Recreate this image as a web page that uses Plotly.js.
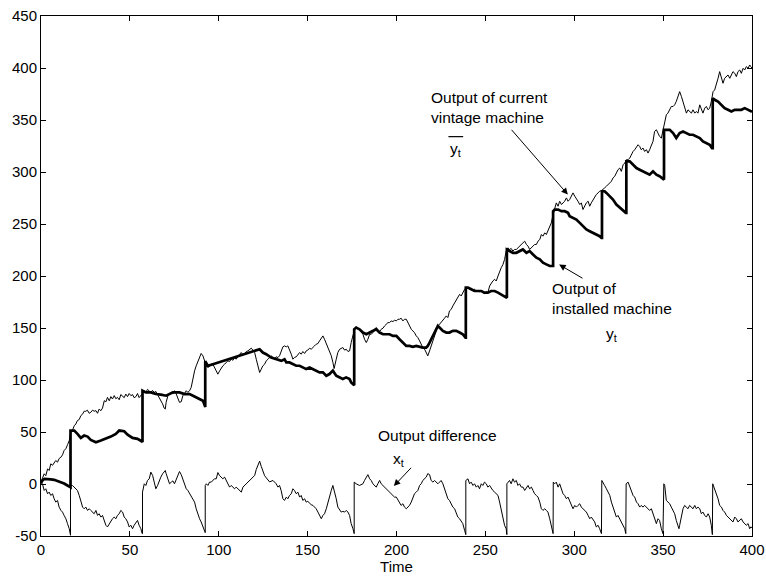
<!DOCTYPE html>
<html>
<head>
<meta charset="utf-8">
<script src="https://cdn.plot.ly/plotly-3.0.1.min.js"></script>
<style>
  html, body { margin: 0; padding: 0; background: #fff; }
  #chart { width: 766px; height: 578px; }
</style>
</head>
<body>
<div id="chart"></div>
<script>
// Output of the current vintage machine (thin upper line)
const tVintage = [0,1,1.8,2.7,3.7,4.6,5.5,6.5,7.4,8.3,9.3,10.2,11.2,12.1,13,14,15,15.9,16.8,17.8,18.7,19.6,20.5,21.5,22.4,23.3,24.3,25.2,26.1,27.1,28,29,29.9,30.9,31.8,32.7,33.7,34.6,35.6,36.5,37.4,38.4,39.3,40.2,41.2,42.1,43,44,44.9,45.9,46.8,47.7,48.7,49.6,50.6,51.5,52.4,53.4,54.3,55.2,56.2,57.1,58.1,59,59.9,60.9,61.8,62.7,63.7,64.6,65.5,66.5,67.4,68.4,69.3,69.9,70.4,71.4,72.3,73.3,74.2,75.1,76.1,77,77.9,78.9,79.8,80.8,81.7,82.6,83.6,84.5,85.5,86.4,87.3,88.3,89.2,90.1,91.1,92,93,93.9,94.8,95.8,96.7,97.6,98.6,99.5,100.5,101.4,102.3,103.3,104.2,105.1,106.1,107,108,108.9,109.8,110.8,111.7,112.7,113.6,114.5,115.5,116.4,117.3,118.3,119.2,120.2,121.1,122,123,123.9,124.8,125.8,126.7,127.7,128.6,129.5,130.5,131.4,132.3,133.3,134.2,135.1,136.1,137,138,138.9,139.8,140.8,141.7,142.6,143.6,144.5,145.5,146.4,147.3,148.3,149.2,150.1,151.1,152,153,153.9,154.8,155.8,156.7,157.7,158.6,159.5,160.5,161.4,162.3,163.3,164.2,164.9,166.1,167,168,168.9,169.8,170.8,171.7,172.7,173.6,174.5,175.5,176.4,177.3,178.3,179.2,180.2,181.1,182,183,183.9,184.9,185.8,186.7,187.7,188.6,189.5,190.5,191.4,192.4,193.3,194.2,195.2,196.1,197,198,198.9,199.9,200.8,201.7,202.6,203.6,204.5,205.5,206.4,207.3,208.3,209.2,210.1,211.1,212,213,213.9,214.8,215.8,216.7,217.6,218.6,219.5,220.5,221.4,222.3,223.3,224.2,225.1,226.1,227,228,228.9,229.8,230.8,231.7,232.7,233.6,234.5,235.5,236.4,237.3,238.3,239.2,240.2,241.1,242,243,243.9,244.9,245.8,246.7,247.7,248.6,249.5,250.5,251.4,252.4,253.3,254.2,255.2,256.1,257.1,258,258.9,259.9,260.8,261.7,262.7,263.6,264.5,265.5,266.4,267.4,268.3,269.3,270.2,271.2,272.1,273.1,274,274.9,275.9,276.8,277.7,278.7,279.6,280.6,281.5,282.4,283.4,284.3,285.2,286.2,287.1,288.1,289,289.9,290.9,291.8,292.8,293.7,294.6,295.6,296.5,297.4,298.4,299.3,300.3,301.2,302.1,303.1,304,304.9,305.9,306.8,307.8,308.7,309.6,310.6,311.5,312.4,313.4,314.3,315.3,316.2,317.1,318.1,319,320,320.9,321.8,322.8,323.7,324.6,325.6,326.5,327.5,328.4,329.3,330.3,331.2,332.1,333.1,334,335,335.9,336.8,337.7,338.7,339.6,340.6,341.5,342.4,343.4,344.3,345.2,346.2,347.1,348,349,349.6,350.3,350.9,351.8,352.7,353.7,354.6,355.6,356.5,357.4,358.4,359.3,360.3,361.2,362.1,363.1,364,364.9,365.9,366.8,367.8,368.7,369.6,370.6,371.5,372.4,373.4,374.3,375.3,376.2,377.1,378.1,379,380,380.9,381.8,382.8,383.7,384.6,385.6,386.5,387.5,388.4,389.3,390.3,391.2,392.1,393.1,394,395,395.9,396.8,397.8,398.7,399.3,400];
const yVintage = [2,6,9.8,8,14.6,13,19.4,18,21,22.6,21,24.5,25.8,28,32.2,34,38,41.8,49.8,52,56,57.7,61,62,65.7,67,70,69.9,71,68,68.9,71,70,70.5,68,72,70.5,73,80.1,79,83.3,80,84,81.7,85,82,83.3,81,86,84,83,86.5,84,87,84.9,86,83,84,87,83,84.9,87,89.7,88,91,89.7,88,90,88.1,89,86,84,81,77,73,72,78.5,84.9,86.5,88.1,86.5,89.7,86.5,81.7,78.5,79.1,84.9,87.1,89.7,88.1,89.7,92.9,102.4,108.8,113.6,118.4,123.2,125.5,123.2,118.4,113.6,112,113.6,115.2,115.2,112,108.8,105.6,108.8,112,113.6,115.2,116.8,118.4,117.8,120,119,121.6,120,123.2,124.8,126.4,124.2,124.8,127.4,128,129.6,130.6,128.7,126.4,120,113.6,107.2,110.4,113.6,115.2,118.4,120,121.6,123.2,121.6,120,122.3,121.6,123.3,128,131.9,132.8,131.9,132.8,129.6,124.8,120,121.7,122.3,124.8,126.4,124.8,127.4,125.5,128,128.7,130.6,129.6,131.9,132.8,134.4,135.1,137.6,140.2,142.4,139.2,135.1,131.2,127.4,123.3,117,111,120,126.4,129.6,130.6,131.2,128.7,129.6,127.4,128,136,142.4,148.8,151,149.8,148.8,146.6,144,139.2,136,139.2,144,144,145.6,148.8,150.4,147.9,146.6,148.8,149.8,152,153.6,155.2,155.2,156.8,156.2,157.4,156.8,158.4,158.4,159.4,156.8,158.4,158.4,155.2,153.6,148.8,147.2,145.6,142.4,140.8,137.6,134.4,131.2,129.6,126.4,123.2,128,132.8,137.6,142.4,147.2,152,153.6,155.2,157.4,159.4,161.6,160,166.4,168,171.2,174.4,176,179.2,182.4,180.8,184,187.2,188.8,188.8,187.2,188.1,186.2,187.2,185.6,186.2,184.9,185.6,184,183,184.9,184,190.4,193.6,195.2,196.8,195.2,200,204.7,207.9,211.1,215.9,223.9,227.1,225.5,226.5,223.9,225.5,225.5,227.1,228.7,230.3,231.9,233.5,230.3,228.7,225.5,227.1,228.7,230.3,230.3,233.5,235.1,239.9,238.3,241.5,239.9,243.1,247.9,251.1,259.1,265.5,270.3,267.1,271.9,268.7,270.3,271.9,275.1,271.9,273.5,276.7,279.9,276.7,273.5,271.9,268.7,270.3,263.9,267.1,270.3,271.9,267.1,270.3,273.5,275.1,278.3,279.9,281.5,282.1,283.1,284.7,286.3,287.9,289.5,291.1,294.3,295.9,299.1,302.2,303.8,300.6,307,308.6,311.8,311.8,313.4,316.6,319.8,321.4,324.6,326.2,324.6,321.4,323,319.8,321.4,318.2,321.4,326.2,329.4,339,340.6,337.4,334.2,332.6,337.4,343.8,347,355,356.6,359.8,363,363,364.6,367.8,374.2,377.3,372.6,367.8,361.4,356.6,359.8,358.2,356.6,359.8,356.6,358.2,356.6,364.6,359.8,356.6,361.4,363,359.8,361.4,367.8,377.3,378.9,383.7,390.1,396.5,391.7,385.3,390.1,391.7,393.3,390.1,393.3,396.5,394.9,391.7,396.5,398.1,394.9,399.7,398.1,401.3,399.7,402.9,401.3,400];

// Output of the installed machine (thick line, jumps at each replacement)
const tInstalled = [0,0.8,2,3.7,5.5,7.4,9.3,11.2,13,14.9,16.6,16.6,18.7,20.5,22.4,24.3,26.2,28,30.9,33.7,36.5,39.3,42.1,44,46.8,48.7,51.5,54.3,56.6,57.1,57.1,59,61.8,64.6,67.4,70.4,74.2,77.9,80.8,83.6,85.5,87.3,89.2,91.1,92.2,92.4,92.4,93.9,96.7,99.5,102.3,105.1,108,111.7,114.5,117.3,120.2,123,124.8,126.7,129.5,132.3,135.2,137,138,139.8,141.7,143.6,145.5,147.3,149.2,151.1,153,154.8,156.7,158.6,160.5,162.3,164.2,166.1,168,169.8,171.7,173.6,174.5,176,176.2,176.2,177.3,179.2,181.1,183,184.9,186.7,188.6,190.5,192.4,194.2,196.1,198,199.9,201.7,203.6,205.5,207.3,209.2,211.1,213,214.8,216.7,217.6,218.6,220.5,222.3,223.3,224.2,226.1,228,229.8,231.7,233.6,235.5,237.3,238.8,239,239,240.2,242,243.9,245.8,247.7,249.5,251.4,253.3,255.2,257.1,258.9,260.8,261.7,262.1,262.1,263.6,265.5,267.4,269.2,271.1,273.1,274.9,276.8,278.7,280.6,282.4,284.3,286.2,287.5,288.1,288.1,289,290.9,292.8,294.6,296.5,297.4,299.3,301.2,303.1,304.9,306.8,308.7,310.6,312.4,314.3,315.3,315.6,315.6,317.1,318.1,320,321.8,323.7,325.6,327.5,329,329.3,329.3,331.2,333.1,335,336.8,338.7,340.6,342.4,344.3,346.2,348,349.9,350.5,350.5,351.8,353.7,355.6,357.4,359.3,361.2,363.1,364.9,366.8,368.7,370.6,372.4,374.3,376.2,377.5,377.9,377.9,379,380.9,382.8,384.6,386.5,388.4,390.3,392.1,394,395.9,397.8,399.3,400];
const yInstalled = [1,3.4,5,5,4.5,4,3,1.8,0.5,-1.4,-3,51.4,51.4,48.2,44.3,46.6,45.6,42.4,40.2,41.8,43.4,45.6,48.2,51.4,50.7,47.5,44.3,43.4,41.1,40.5,89.7,88.1,88.1,86.5,86,84.9,88.1,88.1,86.5,86.5,84.9,83.3,81.7,80.1,75.3,74,118,113.6,115.2,116.8,118.4,120,121.6,123.2,124.8,126.4,128,129.6,126.4,124.8,121.6,120,118.4,120,116.9,116.9,115.3,113.7,113.7,112.1,110.5,112.1,110.5,108.9,107.3,107.3,104.1,105.7,109,104.1,102.5,100.9,102.5,100.9,97.7,95.4,95,148.8,150.4,148.8,145.6,144,145.6,147.2,148.8,145.6,144,144,144,142.4,142.4,139.2,136,132.8,132.8,131.9,132.8,131.9,131.2,131.2,132.8,136,142.4,148.8,152,150.4,147.2,145.6,145.6,147.2,147.2,145.6,144,140.8,140.8,188.8,188.8,187.2,185.6,185.6,185.6,184,184,185.6,185.6,184,182.4,180.8,179.2,179,225.5,223.9,222.3,222.3,223.9,225.5,222.3,223.9,220.7,217.6,216,212.8,211.2,209.6,209.6,209.6,262.3,263.9,263.9,262.3,262.3,260.7,257.5,255.9,254.3,251.1,247.9,244.7,243.1,241.5,239.9,238.3,236.7,236.7,281.5,281.5,279.9,276.7,273.5,268.7,265.5,262.3,260.7,260.7,310.2,310.2,307,303.8,302.2,300.6,299,297.4,300.6,297.4,295.9,292.7,292.7,340.6,340.6,340.6,337.4,332.6,337.4,339,337.4,335.8,335.8,334.2,332.6,329.4,327.8,326.2,323,323,371,369.4,367.8,364.6,361.4,359.8,358.2,359.8,359.8,359.8,361.4,359.8,358.2,358];

// Output difference x_t (thin lower line, resets at each replacement)
const tDiff = [0,0.8,1.8,2.7,3.7,4.6,5.5,6.5,7.4,8.3,9.3,10.2,11.2,12.1,13,14,14.9,15.9,16.6,16.6,17.7,18.7,19.6,20.5,21.5,22.4,23.4,24.3,25.2,26.2,27.1,28,29,29.9,30.9,31.8,32.7,33.7,34.6,35.6,36.5,37.4,38.4,39.3,40.2,41.2,42.1,43,44,44.9,45.9,46.8,47.7,48.7,49.6,50.6,51.5,52.4,53.4,54.3,55.2,56.2,56.9,57.1,57.1,58.1,59,59.9,60.9,61.8,62.8,63.7,64.6,65.6,66.5,67.4,68.4,69.9,70.4,71.4,72.3,73.3,74.2,75.1,76.1,77,77.9,78.9,79.8,80.8,81.7,82.6,83.6,84.5,85.5,86.4,87.3,88.3,89.2,90.1,91.1,92,92.4,92.4,93,93.9,94.8,95.8,96.7,97.6,98.6,99.5,100.5,101.4,102.3,103.3,104.2,105.1,106.1,107,108,108.9,109.8,110.8,111.7,112.7,113.6,114.5,115.5,116.4,117.3,118.3,119.2,120.2,121.1,122,123,123.9,124.8,125.8,126.7,127.7,128.6,130.5,132.3,133.3,134.2,135.1,136.1,137,138,138.9,139.8,140.8,141.7,142.6,143.6,144.5,145.5,146.4,147.3,148.3,149.2,150.1,151.1,152,153,153.9,154.8,155.8,156.7,157.7,158.6,159.5,160.5,161.4,162.3,163.3,164.2,165.2,166.1,167,168,168.9,169.8,170.8,171.7,172.7,173.6,174.5,175.5,176.2,176.2,177.3,179.2,181.1,182,183,183.9,184.9,185.8,186.7,187.7,188.6,189.5,190.5,191.4,192.4,193.3,194.2,195.2,196.1,197,198,198.9,199.9,200.8,201.7,202.6,203.6,204.5,205.5,206.4,207.3,208.3,209.2,210.1,211.1,212,213,213.9,214.8,215.8,216.7,217.6,218.6,219.5,220.5,221.4,222.3,223.3,224.2,225.1,226.1,227,228,228.9,229.8,230.8,231.7,232.7,233.6,234.5,235.5,236.4,237.3,238.3,238.8,239,239,240.2,241.1,242,243,243.9,244.9,245.8,246.7,247.7,248.6,249.5,250.5,251.4,252.4,253.3,254.2,255.2,256.1,257.1,258,258.9,259.9,260.8,261.7,262.1,262.1,263.6,264.5,265.5,266.4,267.4,268.3,269.2,270.2,271.2,272.1,273.1,274,274.9,275.9,276.8,277.7,278.7,279.6,280.6,281.5,282.4,283.4,284.3,285.2,286.2,287.1,288.1,288.2,289,289.9,290.9,291.8,292.8,293.7,294.6,295.6,296.5,297.4,298.4,299.3,300.3,301.2,302.1,303.1,304,304.9,305.9,306.8,307.8,308.7,309.6,310.6,311.5,312.4,313.4,314.3,315.3,315.5,316.2,317.1,318.1,319,320,320.9,321.8,322.8,323.7,324.6,325.6,326.5,327.5,328.4,329,329.2,330.3,331.2,332.1,333.1,334,335,335.9,336.8,337.7,338.7,339.6,340.6,341.5,342.4,343.4,344.3,345.2,346.2,347.1,348,349,349.9,350.4,350.9,351.8,352.7,353.7,354.6,355.6,356.5,357.4,358.4,358.9,359.3,360.3,361.2,362.1,363.1,364,364.9,365.9,366.8,367.8,368.7,369.6,370.6,371.5,372.4,373.4,374.3,375.3,376.2,377.1,377.7,377.9,379,380,380.9,381.8,382.8,383.7,384.6,385.6,386.5,387.5,388.4,389.3,390.3,391.2,392.1,393.1,394,395,395.9,396.8,397.8,398.7,399.3,400];
const xDiff = [1,0.2,-6.2,-4.6,-9.4,-7.8,-11,-9.4,-14.2,-17.4,-15.8,-22.2,-25.4,-27,-30.2,-33.4,-38.1,-43,-49.3,-1.4,-1.4,-3,-4.6,-6.2,-11,-17.4,-22.2,-23.8,-22.2,-25.4,-23.8,-25.4,-27,-28.6,-25.4,-30.2,-28.6,-31.8,-30.2,-36.5,-39.7,-41.3,-38.1,-36.5,-33.4,-31.8,-33.4,-30.2,-28.6,-25.4,-27,-31.8,-33.4,-36.5,-41.3,-39.7,-43,-39.7,-36.5,-35,-39.7,-43,-47.7,-47.7,-7.8,0.2,-1.4,3.4,5,11.4,8.2,0.2,-4.6,-1.4,3.4,6.6,9.8,13,10,4,0.2,1.8,3,0.2,5,8,12,9,4,0.2,-4.6,-6.2,-9.4,-11,-14.2,-17.4,-23.8,-30.2,-33.4,-36.5,-41.3,-44.5,-46.8,-1.4,0.2,-1.4,1.8,1.8,3.4,5,5,11,8,6.6,5,6.6,3.4,0.2,-3,-1.4,-3,-4.6,-3,-4.6,-6.2,-7.8,-3,-1.4,0.2,1.8,3.4,5,6.6,8.2,14,18,22,17,12,8,6,4,2,3.4,0.2,-3,-1.4,-6.2,-14.2,-15.8,-12.6,-14.2,-11,-9.4,-4.6,-6.2,-9.4,-7.8,-12.6,-11,-15.8,-14.2,-17.4,-16.7,-19,-19.9,-20.6,-22.2,-23.8,-27,-30.2,-33.4,-30.2,-28.6,-23.8,-17.4,-11,-6.2,-1.4,-7.8,-14.2,-22.2,-25.4,-27,-26.3,-27,-25.4,-27,-30.2,-38.1,-43,-47.7,1.8,0.2,-1.4,0.2,3.4,6.6,9,5,3.4,0.2,-1.4,-3,0.2,3.4,0.2,-1.4,-3,-4.6,-6.2,-7.8,-9.4,-11,-12.6,-12.6,-15.8,-17.4,-20.6,-19,-22.2,-23.8,-22.2,-20.6,-17.4,-12.6,-9.4,-7.8,-6.2,-1.4,0.2,3.4,5,6.6,10,9,3.4,1.8,3.4,1.8,0.2,1.8,3.4,0.2,-4.6,-9.4,-14.2,-15.8,-19,-22.2,-23.8,-28.6,-31.8,-33.4,-36.5,-38.1,-44.5,-48.7,-48.7,3.4,5,0.2,1.8,-1.4,0.2,-3,-1.4,-4.6,0.2,-1.4,1.8,0.2,-3,-1.4,-4.6,-6.2,-7.8,-9.4,-11,-17.4,-23.8,-33.4,-39.7,-43,-48.7,0.2,3.4,0.2,5,1.8,3.4,-1.4,0.2,-3,-3,-6.2,-3,-1.4,-4.6,-3,-6.2,-9.4,-11,-12.6,-17.4,-23.8,-25.4,-23.8,-25.4,-27,-33.4,-41.3,-47.7,1.8,0.2,1.8,-3,0.2,-6.2,-9.4,-11,-14.2,-12.6,-15.8,-19,-23.8,-20.6,-22.2,-20.6,-19,-22.2,-23.8,-25.4,-27,-30.2,-33.4,-31.8,-35,-36.5,-41.3,-39.7,-43,-47.7,3.4,1.8,-1.4,-4.6,-7.8,-11,-17.4,-22.2,-27,-31.8,-30.2,-33.4,-36.5,-39.7,-43,-47.7,0.2,1.8,-3,-7.8,-11,-12.6,-17.4,-19,-22.2,-20.6,-22.2,-20.6,-22.2,-23.8,-25.4,-23.8,-28.6,-31.8,-38.1,-33.4,-35,-43,-47.7,0.2,-1.4,-15.8,-17.4,-19,-22.2,-25.4,-28.6,-35,-39.7,-43,-39.7,-31.8,-23.8,-20.6,-22.2,-23.8,-20.6,-22.2,-23.8,-20.6,-23.8,-22.2,-23.8,-28.6,-27,-30.2,-31.8,-28.6,-31.8,-39.7,-48.7,0.2,-4.6,-9.4,-14.2,-20.6,-22.2,-25.4,-27,-30.2,-31.8,-33.4,-35,-36.5,-31.8,-33.4,-36.5,-35,-33.4,-36.5,-38.1,-39.7,-38.1,-43,-41.3,-42];

const xTicks = [0, 50, 100, 150, 200, 250, 300, 350, 400];
const yTicks = [-50, 0, 50, 100, 150, 200, 250, 300, 350, 400, 450];

const FONT = 'Liberation Sans, Arial, Helvetica, sans-serif';
const INK = '#000';
const NOTE_SIZE = 15.5;

const traces = [
  { x: tVintage, y: yVintage, mode: 'lines', line: { color: INK, width: 1 }, hoverinfo: 'skip' },
  { x: tInstalled, y: yInstalled, mode: 'lines', line: { color: INK, width: 2.7 }, hoverinfo: 'skip' },
  { x: tDiff, y: xDiff, mode: 'lines', line: { color: INK, width: 1 }, hoverinfo: 'skip' }
];

function label(text, x, y) {
  return { text: text, x: x, y: y, xref: 'x', yref: 'y', showarrow: false,
           xanchor: 'left', yanchor: 'middle', align: 'left',
           font: { family: FONT, size: NOTE_SIZE, color: INK } };
}
function pointer(fromX, fromY, toX, toY) {
  return { text: '', x: toX, y: toY, ax: fromX, ay: fromY, xref: 'x', yref: 'y',
           axref: 'x', ayref: 'y', showarrow: true, arrowhead: 2, arrowsize: 1.3,
           arrowwidth: 1, arrowcolor: INK };
}

const annotations = [
  label('Output of current<br>vintage machine', 218, 362),
  label('y<sub>t</sub>', 229, 322),
  pointer(264, 342, 296.4, 278.3),
  label('Output of<br>installed machine', 286.5, 178),
  label('y<sub>t</sub>', 317, 144),
  pointer(305.5, 197, 291.5, 211),
  label('Output difference', 188.5, 47),
  label('x<sub>t</sub>', 197, 24),
  pointer(209, 17, 198.5, -2)
];

// bar over the vintage-output symbol
const shapes = [
  { type: 'line', xref: 'x', yref: 'y', x0: 229.2, x1: 237.5, y0: 334, y1: 334,
    line: { color: INK, width: 1.2 } }
];

const layout = {
  width: 766, height: 578,
  margin: { l: 41, r: 14, t: 16, b: 42 },
  paper_bgcolor: '#fff', plot_bgcolor: '#fff',
  showlegend: false,
  font: { family: FONT, size: 15, color: INK },
  xaxis: {
    range: [0, 400], tickvals: xTicks, ticktext: xTicks.map(String),
    ticks: 'inside', ticklen: 5, tickcolor: INK, tickwidth: 1,
    showline: true, linecolor: INK, linewidth: 1, mirror: 'ticks',
    showgrid: false, zeroline: false,
    tickfont: { family: FONT, size: 15, color: INK },
    title: { text: 'Time', font: { family: FONT, size: 15, color: INK }, standoff: 1 }
  },
  yaxis: {
    range: [-50, 450], tickvals: yTicks, ticktext: yTicks.map(String),
    ticks: 'inside', ticklen: 5, tickcolor: INK, tickwidth: 1,
    showline: true, linecolor: INK, linewidth: 1, mirror: 'ticks',
    showgrid: false, zeroline: false,
    tickfont: { family: FONT, size: 15, color: INK }
  },
  annotations: annotations,
  shapes: shapes
};

Plotly.newPlot('chart', traces, layout, { staticPlot: true, displayModeBar: false });
</script>
</body>
</html>
